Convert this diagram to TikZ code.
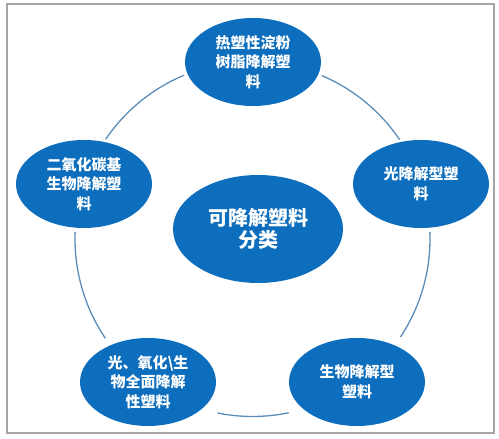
\documentclass[tikz,border=0pt]{standalone}
\usepackage{fontspec}
\usetikzlibrary{shapes.geometric}
\newfontfamily\cjk{Noto Sans CJK SC}
\definecolor{ellblue}{HTML}{0D6EBD}
\definecolor{arcblue}{HTML}{5B8DB8}
\definecolor{frame}{HTML}{A6A6A6}
\begin{document}
\begin{tikzpicture}[x=1pt,y=1pt,
  outer/.style={ellipse,fill=ellblue,minimum width=136pt,minimum height=88pt,inner sep=0pt,
    text=white,align=center,font=\cjk\bfseries\fontsize{15}{19.5}\selectfont},
  hub/.style={ellipse,fill=ellblue,minimum width=170pt,minimum height=108pt,inner sep=0pt,
    text=white,align=center,font=\cjk\bfseries\fontsize{20}{22}\selectfont},
  ring/.style={draw=arcblue,line width=1.3pt}]
\useasboundingbox (0,0) rectangle (499,439);
\draw[frame,line width=1.2pt] (7,6) rectangle (494,435);
\coordinate (O) at (252.5,200);
\def\R{177.5}
\draw[ring] (O) ++(112.7:\R) arc[start angle=112.7,end angle=145.8,radius=\R];
\draw[ring] (O) ++(34:\R) arc[start angle=34,end angle=67,radius=\R];
\draw[ring] (O) ++(177.7:\R) arc[start angle=177.7,end angle=214,radius=\R];
\draw[ring] (O) ++(-33.5:\R) arc[start angle=-33.5,end angle=2.3,radius=\R];
\draw[ring] (O) ++(258.6:\R) arc[start angle=258.6,end angle=281.8,radius=\R];
\node[outer] (top) at (253,377) {热塑性淀粉\\树脂降解塑\\料};
\node[outer] (left) at (84,255) {二氧化碳基\\生物降解塑\\料};
\node[outer] (right) at (421,255) {光降解型塑\\料};
\node[outer] (bl) at (148,57) {光、氧化\textbackslash 生\\物全面降解\\性塑料};
\node[outer] (br) at (357,57) {生物降解型\\塑料};
\node[hub] (hub) at (258,210) {可降解塑料\\分类};
\end{tikzpicture}
\end{document}
